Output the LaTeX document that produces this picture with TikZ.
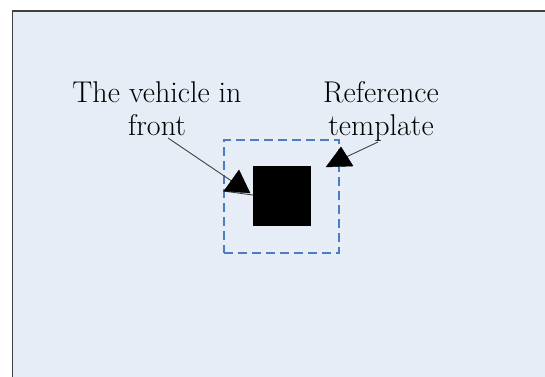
\documentclass[tikz,border=0pt]{standalone}
\definecolor{panel}{HTML}{E6EDF7}
\definecolor{frameline}{HTML}{404040}
\definecolor{dashblue}{HTML}{4C7CC4}
\tikzset{
  label text/.style={align=center, inner sep=0pt, anchor=north,
    font=\fontsize{30}{33}\selectfont},
  leader/.style={draw=black!75, line width=0.9pt},
  arrowhead/.style={fill=black, draw=black, line width=0.4pt},
}
\begin{document}
\begin{tikzpicture}[x=1pt, y=-1pt]
  \useasboundingbox (0,0) rectangle (545,376);
  % panel with its frame, running off the right and bottom edges
  \fill[panel] (12.5,11) rectangle (560,390);
  \draw[frameline, line width=1.5pt] (560,11) -- (12.5,11) -- (12.5,390);
  % reference template (dashed) and the vehicle in front (solid square)
  \node[draw=dashblue, dash pattern=on 9pt off 5pt, line width=1.8pt,
        minimum width=115pt, minimum height=113pt, inner sep=0pt]
        (tmpl) at (281.5,196.5) {};
  \node[fill=black, minimum width=58pt, minimum height=60pt, inner sep=0pt]
        (veh) at (282,196) {};
  % labels
  \node[label text] (lt) at (157,81.5) {The vehicle in\\front};
  \node[label text] (rt) at (381,81.5) {Reference\\template};
  % leader to the vehicle
  \coordinate (la) at (168,138);
  \coordinate (lb) at (236,184);
  \draw[leader] (la) -- (lb);
  \draw[leader] (223,191) -- (veh.west |- 0,195);
  \fill[arrowhead] (239,170) -- (250,193) -- (224,191) -- cycle;
  % leader to the template
  \coordinate (ra) at (378,142);
  \coordinate (rb) at (344,158);
  \draw[leader] (ra) -- (rb);
  \fill[arrowhead] (341,147) -- (353,166) -- (326,167) -- cycle;
\end{tikzpicture}
\end{document}
